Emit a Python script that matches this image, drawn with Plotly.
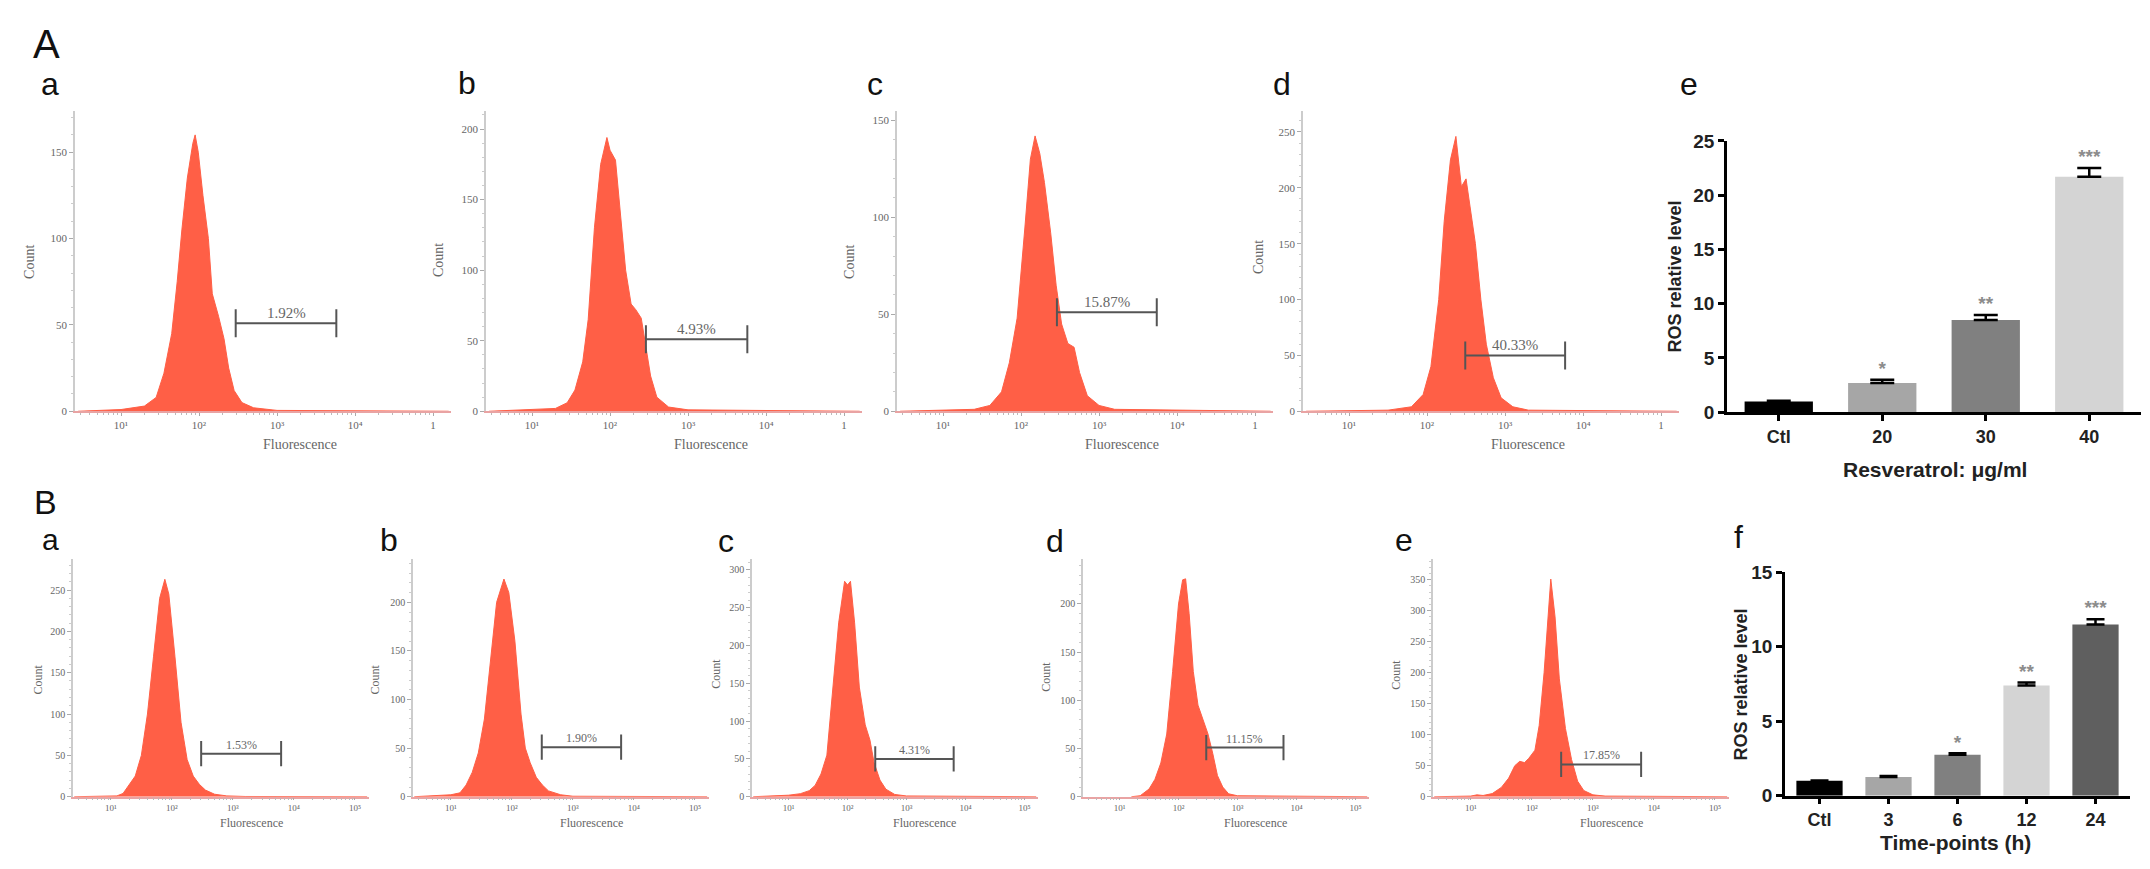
import plotly.graph_objects as go

W, H = 2150, 869

# ---- flow cytometry histograms (log10 fluorescence, count) ----
Aa_x = [0.45, 1.0, 1.3, 1.45, 1.55, 1.65, 1.72, 1.78, 1.85, 1.92, 1.95, 1.99, 2.05, 2.12, 2.17, 2.25, 2.32, 2.38, 2.45, 2.55, 2.7, 3.0, 5.2]
Aa_y = [0, 1, 3, 8, 22, 45, 75, 105, 135, 155, 160, 150, 125, 100, 68, 55, 42, 25, 12, 5, 2, 0.5, 0]
Ab_x = [0.45, 1.0, 1.3, 1.45, 1.55, 1.65, 1.72, 1.8, 1.88, 1.96, 2.0, 2.07, 2.12, 2.2, 2.27, 2.33, 2.4, 2.45, 2.52, 2.6, 2.75, 3.0, 5.2]
Ab_y = [0, 1, 2, 6, 15, 35, 65, 130, 175, 194, 185, 178, 150, 100, 76, 72, 66, 50, 25, 10, 3, 1, 0]
Ac_x = [0.45, 1.0, 1.4, 1.6, 1.75, 1.85, 1.95, 2.05, 2.12, 2.18, 2.24, 2.3, 2.38, 2.45, 2.52, 2.6, 2.68, 2.75, 2.85, 3.0, 3.2, 5.2]
Ac_y = [0, 0.5, 1, 3, 10, 25, 48, 95, 130, 142, 133, 118, 92, 65, 45, 35, 33, 20, 8, 3, 1, 0]
Ad_x = [0.45, 1.0, 1.5, 1.8, 1.95, 2.05, 2.15, 2.22, 2.3, 2.37, 2.41, 2.44, 2.5, 2.56, 2.62, 2.69, 2.76, 2.85, 2.95, 3.1, 3.3, 5.2]
Ad_y = [0, 0.5, 1, 4, 15, 40, 100, 170, 225, 246, 220, 201, 208, 180, 150, 100, 60, 30, 12, 4, 1, 0]

Ba_x = [0.4, 0.8, 1.1, 1.2, 1.3, 1.4, 1.5, 1.6, 1.7, 1.8, 1.885, 1.95, 2.05, 2.15, 2.25, 2.35, 2.45, 2.55, 2.7, 2.9, 3.2, 5.2]
Ba_y = [0, 0.5, 1, 4, 15, 25, 50, 100, 170, 240, 263, 245, 170, 90, 45, 25, 15, 8, 3, 1, 0.3, 0]
Bb_x = [0.4, 0.8, 1.0, 1.15, 1.25, 1.35, 1.45, 1.55, 1.65, 1.75, 1.87, 1.95, 2.05, 2.15, 2.22, 2.3, 2.4, 2.5, 2.6, 2.8, 3.0, 5.2]
Bb_y = [0, 1, 2, 4, 12, 25, 45, 80, 140, 200, 224, 210, 160, 85, 50, 35, 20, 12, 6, 2, 0.5, 0]
Bc_x = [0.4, 0.8, 1.0, 1.2, 1.35, 1.45, 1.55, 1.65, 1.75, 1.85, 1.95, 2.0, 2.05, 2.12, 2.2, 2.3, 2.38, 2.45, 2.55, 2.65, 2.8, 3.0, 5.2]
Bc_y = [0, 1, 2, 4, 8, 15, 30, 55, 140, 230, 285, 280, 285, 230, 145, 95, 75, 45, 22, 10, 3, 1, 0]
Bd_x = [1.2, 1.35, 1.5, 1.6, 1.7, 1.8, 1.9, 2.0, 2.07, 2.12, 2.18, 2.25, 2.33, 2.42, 2.5, 2.58, 2.66, 2.75, 2.85, 3.0, 5.2]
Bd_y = [0, 1, 8, 18, 35, 65, 130, 200, 225, 226, 190, 130, 95, 78, 65, 45, 22, 10, 3, 1, 0]
Be_x = [0.4, 1.0, 1.1, 1.2, 1.35, 1.5, 1.62, 1.72, 1.8, 1.88, 1.95, 2.05, 2.12, 2.2, 2.31, 2.38, 2.45, 2.55, 2.65, 2.75, 2.85, 3.0, 3.2, 5.2]
Be_y = [0, 1, 3, 2, 5, 15, 30, 50, 57, 55, 62, 75, 115, 200, 351, 290, 190, 110, 60, 25, 10, 3, 1, 0]

pct_A = ['1.92%', '4.93%', '15.87%', '40.33%']
gate_A = [(2.47, 3.76), (2.46, 3.76), (2.46, 3.74), (2.49, 3.77)]
gate_y_A = [51, 51, 51, 50]
pct_B = ['1.53%', '1.90%', '4.31%', '11.15%', '17.85%']
gate_B = [(2.48, 3.79), (2.49, 3.79), (2.47, 3.80), (2.47, 3.78), (2.48, 3.79)]
gate_y_B = [52, 51, 50, 51, 52]

# ---- ROS bar charts ----
e_cats = ['Ctl', '20', '30', '40']
e_vals = [1.0, 2.7, 8.5, 21.7]
e_err = [0.05, 0.3, 0.45, 0.8]
e_stars = ['', '*', '**', '***']
f_cats = ['Ctl', '3', '6', '12', '24']
f_vals = [1.0, 1.25, 2.75, 7.4, 11.5]
f_err = [0.03, 0.07, 0.1, 0.2, 0.35]
f_stars = ['', '', '*', '**', '***']

e_colors = ['#000000', '#a6a6a6', '#808080', '#d4d4d4']
f_colors = ['#000000', '#a6a6a6', '#808080', '#d4d4d4', '#5f5f5f']

RED = '#ff5f46'
SERIF = 'Liberation Serif'
SANS = 'Liberation Sans'


def px(p):
    return p / W


def py(p):
    return 1 - p / H


def label(text, x, y, font, xref='paper', yref='paper', **kw):
    d = dict(text=text, xref=xref, yref=yref, x=x, y=y, showarrow=False,
             xanchor='center', yanchor='middle', font=font)
    d.update(kw)
    return d


fig = go.Figure()
layout = {}
annotations = []

# panel geometry: (x0, x1) px, (ytop, ybottom) px, y max, top tick, log x range
hist_panels = [
    (Aa_x, Aa_y, (67, 443), (95, 403), 174, 150, (0.41, 5.23), 'A'),
    (Ab_x, Ab_y, (478, 854), (95, 403), 213, 200, (0.41, 5.23), 'A'),
    (Ac_x, Ac_y, (889, 1265), (95, 403), 155, 150, (0.41, 5.23), 'A'),
    (Ad_x, Ad_y, (1295, 1671), (95, 403), 269, 250, (0.41, 5.23), 'A'),
    (Ba_x, Ba_y, (65, 361), (554, 798), 288, 250, (0.38, 5.23), 'B'),
    (Bb_x, Bb_y, (405, 701), (554, 798), 245, 200, (0.38, 5.23), 'B'),
    (Bc_x, Bc_y, (744, 1030), (554, 798), 315, 300, (0.38, 5.23), 'B'),
    (Bd_x, Bd_y, (1075, 1361), (554, 798), 247, 200, (0.38, 5.23), 'B'),
    (Be_x, Be_y, (1425, 1721), (554, 798), 384, 350, (0.38, 5.23), 'B'),
]
pcts = pct_A + pct_B
gates = gate_A + gate_B
gate_ys = gate_y_A + gate_y_B
count_pos = [(22, 250), (430, 248), (842, 250), (1250, 245),
             (30, 678), (367, 678), (708, 672), (1038, 675), (1388, 673)]

for i, (xs, ys, (x0, x1), (yt, yb), ymax, ytop, xr, row) in enumerate(hist_panels):
    n = i + 1
    xa = 'x' if n == 1 else f'x{n}'
    ya = 'y' if n == 1 else f'y{n}'
    big = row == 'A'
    fig.add_trace(go.Scatter(
        x=[10 ** v for v in xs], y=ys, mode='lines', fill='tozeroy',
        line=dict(color=RED, width=1), fillcolor=RED,
        xaxis=xa, yaxis=ya, showlegend=False, hoverinfo='skip'))
    gl, gr = gates[i]
    fig.add_trace(go.Scatter(
        x=[10 ** gl, 10 ** gr], y=[gate_ys[i]] * 2, mode='lines+markers',
        line=dict(color='#555555', width=2),
        marker=dict(symbol='line-ns-open', size=20 if big else 18,
                    line=dict(color='#555555', width=2)),
        xaxis=xa, yaxis=ya, showlegend=False, hoverinfo='skip'))
    annotations.append(label(
        pcts[i], (gl + gr) / 2, gate_ys[i],
        dict(family=SERIF, size=15 if big else 12, color='#666666'),
        xref=xa, yref=ya, yshift=10 if big else 9))
    if big:
        labels = ['10¹', '10²', '10³', '10⁴', '1']
    else:
        labels = ['10¹', '10²', '10³', '10⁴', '10⁵']
    layout[f'xaxis{n}'] = dict(
        domain=[px(x0), px(x1)], anchor=ya, type='log', range=list(xr),
        tickmode='array', tickvals=[10, 100, 1000, 10000, 100000], ticktext=labels,
        showline=True, linecolor='#e9a3a3', linewidth=1.5,
        ticks='outside', ticklen=3 if big else 2, tickcolor='#aaaaaa',
        tickfont=dict(family=SERIF, size=11 if big else 9, color='#666666'),
        showgrid=False, zeroline=False,
        minor=dict(ticks='outside', ticklen=2, tickcolor='#bbbbbb', dtick='D1'))
    layout[f'yaxis{n}'] = dict(
        domain=[py(yb), py(yt)], anchor=xa, range=[0, ymax],
        tickvals=list(range(0, ytop + 1, 50)),
        showline=True, linecolor='#cccccc', linewidth=1.5,
        ticks='outside', ticklen=4, tickcolor='#aaaaaa',
        tickfont=dict(family=SERIF, size=11 if big else 10, color='#666666'),
        showgrid=False, zeroline=False,
        minor=dict(ticks='outside', ticklen=2, tickcolor='#cccccc', dtick=10))
    cx, cy = count_pos[i]
    annotations.append(label(
        'Count', px(cx), py(cy),
        dict(family=SERIF, size=14 if big else 12, color='#666666'), textangle=-90))
    annotations.append(label(
        'Fluorescence', 3.3, py(437 if big else 825),
        dict(family=SERIF, size=14 if big else 12, color='#666666'), xref=xa))

# ---- bar charts ----
bar_panels = [
    (e_cats, e_vals, e_err, e_stars, e_colors, (1719, 2133), (126, 404), 25, 'Resveratrol: μg/ml',
     0.66, 12, (1667, 265), (1927, 463)),
    (f_cats, f_vals, f_err, f_stars, f_colors, (1777, 2122), (568, 797), 15, 'Time-points (h)',
     0.67, 9, (1733, 683), (1947, 845)),
]
for j, (cats, vals, err, stars, cols, (x0, x1), (yt, yb), ymax, xtitle, bw, cap, ytp, xtp) in enumerate(bar_panels):
    n = 10 + j
    xa, ya = f'x{n}', f'y{n}'
    fig.add_trace(go.Bar(
        x=cats, y=vals, marker=dict(color=cols, line=dict(width=0)), width=bw,
        error_y=dict(type='data', array=err, arrayminus=[0] * len(err), symmetric=False,
                     color='black', thickness=2.5, width=cap),
        xaxis=xa, yaxis=ya, showlegend=False, hoverinfo='skip'))
    fig.add_trace(go.Scatter(
        x=cats, y=[v + e for v, e in zip(vals, err)], mode='text', text=stars,
        textposition='top center',
        textfont=dict(family=SANS, size=19, color='#8c8c8c', weight='bold'),
        xaxis=xa, yaxis=ya, showlegend=False, hoverinfo='skip'))
    layout[f'xaxis{n}'] = dict(
        domain=[px(x0), px(x1)], anchor=ya, type='category',
        range=[-0.5, len(cats) - 0.5],
        showline=True, linecolor='black', linewidth=2.5,
        ticks='outside', ticklen=6, tickwidth=2.5, tickcolor='black',
        tickfont=dict(family=SANS, size=18, color='#222222', weight='bold'),
        showgrid=False, zeroline=False)
    layout[f'yaxis{n}'] = dict(
        domain=[py(yb), py(yt)], anchor=xa, range=[0, ymax], dtick=5,
        showline=True, linecolor='black', linewidth=2.5,
        ticks='outside', ticklen=6, tickwidth=2.5, tickcolor='black',
        tickfont=dict(family=SANS, size=19, color='#222222', weight='bold'),
        showgrid=False, zeroline=False)
    annotations.append(label(
        '<b>ROS relative level</b>', px(ytp[0]), py(ytp[1]),
        dict(family=SANS, size=18, color='#222222'), textangle=-90))
    annotations.append(label(
        f'<b>{xtitle}</b>', px(xtp[0]), py(xtp[1]),
        dict(family=SANS, size=21, color='#222222')))

# ---- panel letters ----
letters = [('A', 38, 27, 40), ('B', 37, 496, 34),
           ('a', 42, 68, 32), ('b', 459, 67, 32), ('c', 867, 68, 32), ('d', 1274, 68, 32), ('e', 1681, 68, 32),
           ('a', 42, 534, 30), ('b', 381, 535, 32), ('c', 718, 536, 32), ('d', 1047, 536, 32),
           ('e', 1396, 535, 32), ('f', 1730, 532, 32)]
for t, lx, ly, s in letters:
    annotations.append(label(t, px(lx), py(ly), dict(family=SANS, size=s, color='#111111')))

fig.update_layout(
    width=W, height=H,
    margin=dict(l=0, r=0, t=0, b=0),
    paper_bgcolor='white', plot_bgcolor='white',
    annotations=annotations,
    **layout)

fig.write_html("out.html")
